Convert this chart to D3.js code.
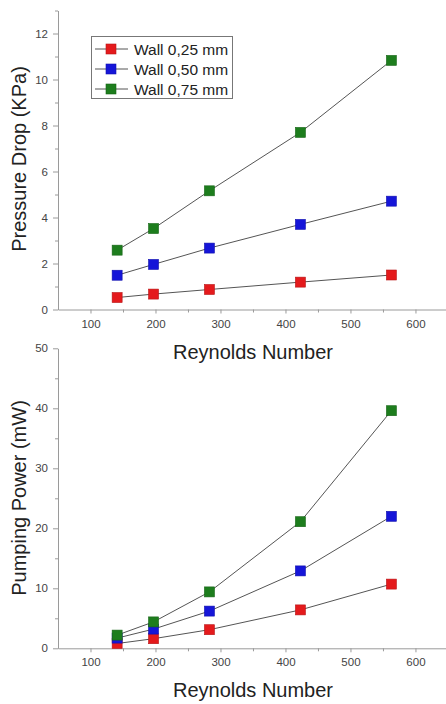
<!DOCTYPE html>
<html><head><meta charset="utf-8">
<script src="https://cdn.jsdelivr.net/npm/d3@7"></script>
<style>
body{margin:0;background:#fff;}
svg{display:block;font-family:"Liberation Sans",Arial,sans-serif;}
</style></head>
<body>
<svg id="c" width="446" height="704"></svg>
<script>
const reynolds = [141, 197, 283, 423, 563];
const seriesNames = ["Wall 0,25 mm", "Wall 0,50 mm", "Wall 0,75 mm"];
const seriesColors = ["#e41a1c", "#1515d8", "#1d7d1d"];
const pressureWall025 = [0.52, 0.67, 0.87, 1.19, 1.50];
const pressureWall050 = [1.49, 1.96, 2.67, 3.70, 4.71];
const pressureWall075 = [2.58, 3.52, 5.16, 7.70, 10.83];
const powerWall025 = [0.8, 1.6, 3.1, 6.4, 10.7];
const powerWall050 = [1.7, 3.2, 6.2, 12.9, 22.0];
const powerWall075 = [2.2, 4.4, 9.4, 21.1, 39.6];
const xTicks = [100, 200, 300, 400, 500, 600];
const pressureTicks = [0, 2, 4, 6, 8, 10, 12];
const powerTicks = [0, 10, 20, 30, 40, 50];

const svg = d3.select("#c");
const x = d3.scaleLinear().domain([50, 647]).range([58, 446]);

function panel(opts){
  const g = svg.append("g");
  const y = opts.y;
  const axisColor = "#9a9a9a";
  const xa = d3.axisBottom(x).tickValues(xTicks).tickSize(4).tickPadding(6).tickSizeOuter(0);
  g.append("g").attr("transform", `translate(0,${y.range()[0]})`).call(xa);
  const xm = d3.axisBottom(x).tickValues(xTicks.map(v=>v+50).filter(v=>v<647)).tickSize(3).tickFormat("").tickSizeOuter(0);
  g.append("g").attr("transform", `translate(0,${y.range()[0]})`).call(xm).select(".domain").remove();
  const ya = d3.axisLeft(y).tickValues(opts.ticks).tickSize(5).tickPadding(5).tickSizeOuter(0);
  g.append("g").attr("transform", `translate(58,0)`).call(ya);
  const ym = d3.axisLeft(y).tickValues(opts.minor).tickSize(3).tickFormat("").tickSizeOuter(0);
  g.append("g").attr("transform", `translate(58,0)`).call(ym).select(".domain").remove();
  g.selectAll(".domain, .tick line").attr("stroke", axisColor).attr("stroke-width", 1);
  g.selectAll(".tick text").attr("fill", "#444").attr("font-size", 11.5).attr("font-family", "Liberation Sans, Arial, sans-serif");

  const line = d3.line().x((d,i)=>x(reynolds[i])).y(d=>y(d));
  opts.series.forEach((s) => {
    g.append("path").datum(s).attr("d", line).attr("fill","none").attr("stroke","#555").attr("stroke-width",1);
  });
  opts.series.forEach((s, k) => {
    g.selectAll(null).data(s).enter().append("rect")
      .attr("x",(d,i)=>x(reynolds[i])-5).attr("y",d=>y(d)-5)
      .attr("width",10).attr("height",10)
      .attr("fill",seriesColors[k]).attr("stroke", d3.color(seriesColors[k]).darker(0.6)).attr("stroke-width",0.6);
  });
  const yr = y.range();
  g.append("text").attr("transform", `translate(26,${opts.ytitleY}) rotate(-90)`)
    .attr("text-anchor","middle").attr("font-size",20).attr("fill","#222").text(opts.ytitle);
  g.append("text").attr("x", 253).attr("y", yr[0]+49).attr("text-anchor","middle")
    .attr("font-size",20).attr("fill","#222").text("Reynolds Number");
  return g;
}

const yTop = d3.scaleLinear().domain([0, 13]).range([309.5, 10.5]);
panel({y: yTop, ticks: pressureTicks, minor: [1,3,5,7,9,11,13],
  series: [pressureWall025, pressureWall050, pressureWall075],
  ytitle: "Pressure Drop (KPa)", ytitleY: 159});

const yBot = d3.scaleLinear().domain([0, 50]).range([648.3, 348.3]);
panel({y: yBot, ticks: powerTicks, minor: [5,15,25,35,45],
  series: [powerWall025, powerWall050, powerWall075],
  ytitle: "Pumping Power (mW)", ytitleY: 498});

const lg = svg.append("g");
lg.append("rect").attr("x",91.5).attr("y",36.5).attr("width",141).attr("height",62)
  .attr("fill","#fff").attr("stroke","#777").attr("stroke-width",1);
seriesNames.forEach((n,k)=>{
  const cy = 49 + k*20;
  lg.append("line").attr("x1",95).attr("x2",128).attr("y1",cy).attr("y2",cy).attr("stroke","#555");
  lg.append("rect").attr("x",106).attr("y",cy-5).attr("width",10).attr("height",10)
    .attr("fill",seriesColors[k]).attr("stroke", d3.color(seriesColors[k]).darker(0.6)).attr("stroke-width",0.6);
  lg.append("text").attr("x",134).attr("y",cy+5.5).attr("font-size",15.5).attr("fill","#222").text(n);
});
</script>
</body></html>
